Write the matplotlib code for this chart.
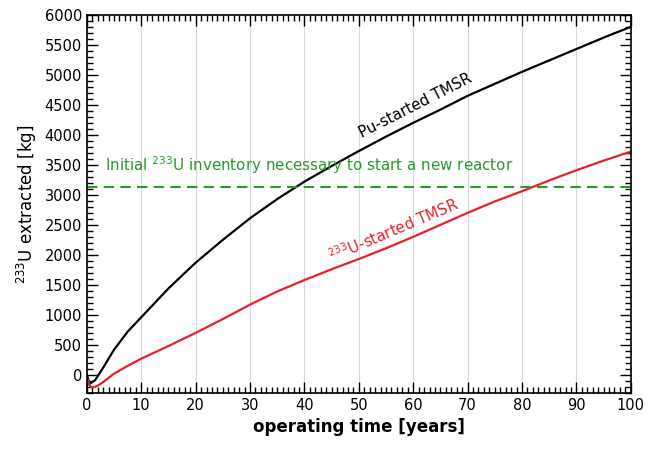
import numpy as np
import matplotlib
matplotlib.use("Agg")
import matplotlib.pyplot as plt
from matplotlib.ticker import MultipleLocator

# ===============================
# DATA
# ===============================
t_pu = [0, 0.5, 1, 1.5, 2, 3, 5, 7.5, 10, 15, 20, 25, 30, 35, 40, 45, 50,
        55, 60, 65, 70, 75, 80, 85, 90, 95, 100]
u_pu = [0, -150, -120, -90, -20, 120, 420, 720, 960, 1440, 1870, 2250, 2610,
        2930, 3220, 3480, 3730, 3970, 4200, 4420, 4650, 4850, 5050, 5240,
        5430, 5620, 5800]

t_u = [0, 0.5, 1, 1.5, 2, 3, 5, 7.5, 10, 15, 20, 25, 30, 35, 40, 45, 50,
       55, 60, 65, 70, 75, 80, 85, 90, 95, 100]
u_u = [-50, -180, -210, -200, -180, -120, 20, 150, 270, 480, 700, 930, 1170,
       1390, 1580, 1760, 1930, 2110, 2300, 2500, 2700, 2890, 3060, 3240,
       3410, 3570, 3720]

inventory = 3130

# ===============================
# PLOT
# ===============================
fig = plt.figure(figsize=(6.53, 4.49), dpi=100)
ax = fig.add_axes([0.133, 0.125, 0.833, 0.842])

ax.grid(axis="x", color="#d8d8d8", linewidth=0.8)
ax.set_axisbelow(True)

ax.plot(t_pu, u_pu, color="black", linewidth=1.6)
ax.plot(t_u, u_u, color="#e8202a", linewidth=1.6)
ax.axhline(inventory, color="#2a9a2a", linestyle=(0, (5, 3)), linewidth=1.5)

ax.text(3.3, 3320, "Initial $^{233}$U inventory necessary to start a new reactor",
        color="#2a9a2a", fontsize=10.9, va="bottom")
ax.text(60.5, 4480, "Pu-started TMSR", color="black", fontsize=10.8,
        rotation=27, ha="center", va="center")
ax.text(56.5, 2420, "$^{233}$U-started TMSR", color="#e8202a", fontsize=10.8,
        rotation=23, ha="center", va="center")

ax.set_xlim(0, 100)
ax.set_ylim(-300, 6000)
ax.xaxis.set_major_locator(MultipleLocator(10))
ax.xaxis.set_minor_locator(MultipleLocator(1))
ax.yaxis.set_major_locator(MultipleLocator(500))
ax.yaxis.set_minor_locator(MultipleLocator(100))
ax.tick_params(which="both", direction="in", top=True, right=True,
               labelsize=10.5, width=1)
ax.tick_params(which="major", length=8)
ax.tick_params(which="minor", length=4)
for s in ax.spines.values():
    s.set_linewidth(1.2)

ax.set_xlabel("operating time [years]", fontsize=12, fontweight="bold")
ax.set_ylabel("$^{233}$U extracted [kg]", fontsize=12)

fig.savefig("out.png", dpi=100)
